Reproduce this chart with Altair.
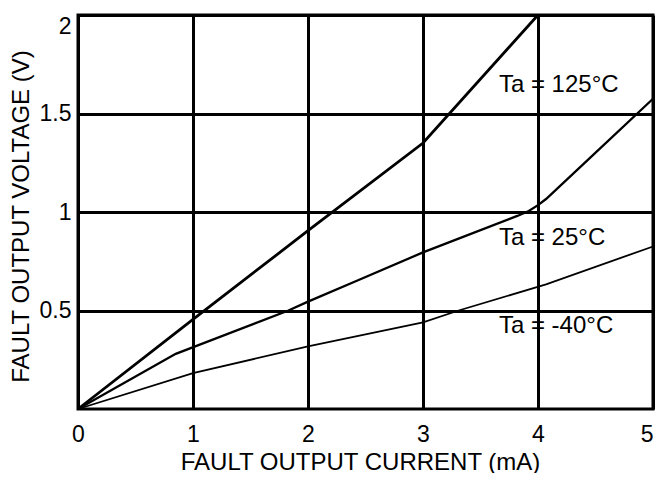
import altair as alt
import pandas as pd

# Series data
x_125 = [0, 1, 2, 3, 4]
y_125 = [0, 0.455, 0.905, 1.35, 2.0]

x_25 = [0, 0.85, 1.83, 2, 2.42, 3, 3.82, 3.92, 4.0, 4.07, 4.48, 5]
y_25 = [0, 0.28, 0.5, 0.545, 0.65, 0.795, 0.98, 1.005, 1.035, 1.066, 1.29, 1.575]

x_m40 = [0, 1, 2, 3, 3.31, 4.07, 5]
y_m40 = [0, 0.182, 0.318, 0.44, 0.5, 0.633, 0.825]

series_names = ["Ta = 125°C", "Ta = 25°C", "Ta = -40°C"]
label_x = [3.66, 3.66, 3.66]
label_y = [1.611, 0.832, 0.387]

x_ticks = [0, 1, 2, 3, 4, 5]
y_ticks = [0.5, 1, 1.5, 2]

FONT = "Liberation Sans"

rows = []
for name, xs, ys in zip(series_names, [x_125, x_25, x_m40], [y_125, y_25, y_m40]):
    for xv, yv in zip(xs, ys):
        rows.append({"series": name, "x": xv, "y": yv})
df = pd.DataFrame(rows)

labels_df = pd.DataFrame({"label": series_names, "x": label_x, "y": label_y})

PLOT_W = 575
PLOT_H = 394

x_enc = alt.X(
    "x:Q",
    scale=alt.Scale(domain=[0, 5], nice=False, zero=False),
    axis=alt.Axis(
        values=x_ticks,
        format="d",
        title="FAULT OUTPUT CURRENT (mA)",
        grid=True,
        gridColor="black",
        gridWidth=3,
        gridOpacity=1,
        domain=False,
        ticks=False,
        tickSize=0,
        labelFontSize=23,
        labelFont=FONT,
        labelColor="black",
        labelBaseline="alphabetic",
        labelPadding=32,
        labelFlush=False,
        labelAlign={"condition": {"test": "datum.value == 5", "value": "right"}, "value": "center"},
        titleFontSize=24,
        titleFont=FONT,
        titleFontWeight="normal",
        titleColor="black",
        titleX=282,
        titleY=60,
        titleBaseline="alphabetic",
        titleAlign="center",
    ),
)

y_enc = alt.Y(
    "y:Q",
    scale=alt.Scale(domain=[0, 2], nice=False),
    axis=alt.Axis(
        values=y_ticks,
        format="~g",
        title="FAULT OUTPUT VOLTAGE (V)",
        grid=True,
        gridColor="black",
        gridWidth=3,
        gridOpacity=1,
        domain=False,
        ticks=False,
        tickSize=0,
        labelFontSize=23,
        labelFont=FONT,
        labelColor="black",
        labelPadding=7,
        labelFlush=False,
        labelBaseline={"condition": {"test": "datum.value == 2", "value": "top"}, "value": "middle"},
        titleFontSize=24,
        titleFont=FONT,
        titleFontWeight="normal",
        titleColor="black",
        titleX=-50,
        titleY=201,
        titleBaseline="alphabetic",
        titleAlign="center",
        titleAngle=270,
    ),
)

lines = alt.Chart(df).mark_line(color="black").encode(
    x=x_enc,
    y=y_enc,
    detail="series:N",
    strokeWidth=alt.StrokeWidth(
        "series:N",
        scale=alt.Scale(domain=series_names, range=[2.8, 1.8, 1.5]),
        legend=None,
    ),
)

texts = alt.Chart(labels_df).mark_text(
    align="left", baseline="alphabetic", fontSize=24, font=FONT, color="black"
).encode(
    x=alt.X("x:Q"),
    y=alt.Y("y:Q"),
    text="label:N",
)

chart = (
    alt.layer(lines, texts)
    .properties(
        width=PLOT_W,
        height=PLOT_H,
        autosize=alt.AutoSizeParams(type="none"),
        padding={"left": 70, "top": 7, "right": 2, "bottom": 64},
        background="white",
    )
    .configure_view(stroke="black", strokeWidth=3)
)

chart.save("out.html", embed_options={"renderer": "svg", "actions": False})
